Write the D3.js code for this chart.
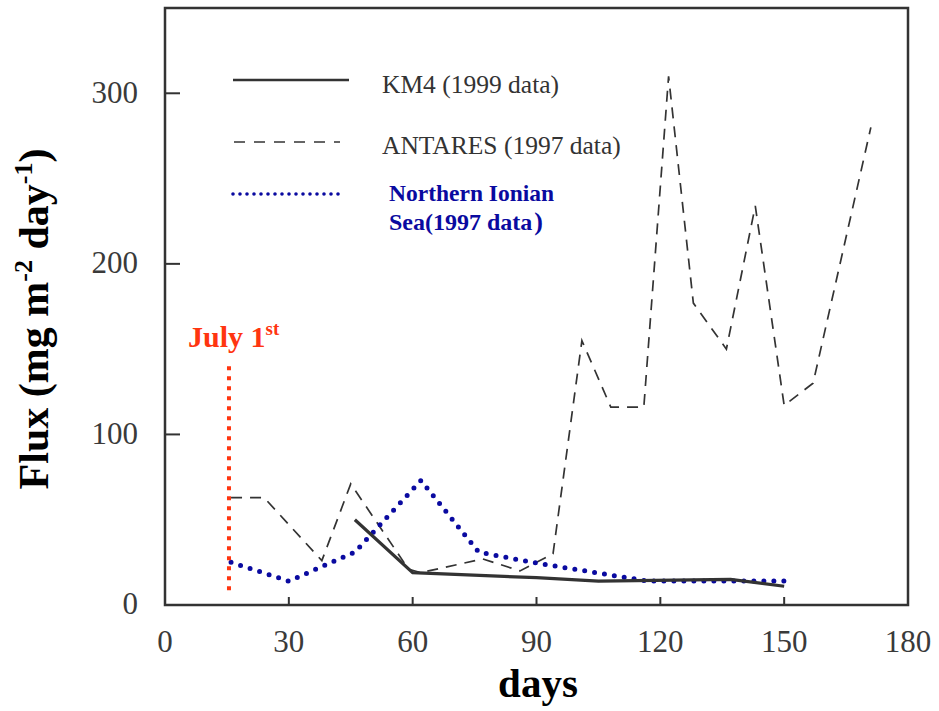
<!DOCTYPE html>
<html>
<head>
<meta charset="utf-8">
<script src="https://cdn.jsdelivr.net/npm/d3@7"></script>
<style>
  html, body { margin: 0; padding: 0; background: #ffffff; }
  svg { display: block; }
</style>
</head>
<body>
<script>
// Sediment trap flux time series (days after June 15)
const xTicks = [0, 30, 60, 90, 120, 150, 180];
const yTicks = [100, 200, 300];
const yLabelTicks = [0, 100, 200, 300];

const km4Days = [46, 60, 90, 105, 137, 150];
const km4Flux = [50, 19, 16, 14, 15, 11];

const antaresDays = [16, 24, 38, 45, 59, 62, 77, 86, 94, 101, 108, 116, 122, 128, 136, 143, 150, 157, 171];
const antaresFlux = [63, 63, 26, 71, 21, 19, 27, 20, 30, 155, 116, 116, 310, 177, 150, 234, 117, 130, 280];

const ionianDays = [16, 30, 46, 62, 76, 89, 117, 150];
const ionianFlux = [25, 14, 31, 73, 31, 25, 14, 14];

const july1Day = 15.5;
const july1Span = [8, 140];

const seriesNames = ["KM4 (1999 data)", "ANTARES (1997 data)", "Northern Ionian", "Sea(1997 data"];

const W = 939, H = 711;
const frame = { left: 165, right: 908, top: 8, bottom: 605 };

const svg = d3.select("body").append("svg").attr("width", W).attr("height", H);

const x = d3.scaleLinear().domain([0, 180]).range([frame.left, frame.right]);
const y = d3.scaleLinear().domain([0, 350]).range([frame.bottom, frame.top]);

const ink = "#333333";
const labelInk = "#3a3a3a";
const serif = "'Liberation Serif', 'Times New Roman', serif";
const blue = "#0a0aa0";
const red = "#ff3510";

// plot frame
svg.append("rect")
  .attr("x", frame.left).attr("y", frame.top)
  .attr("width", frame.right - frame.left).attr("height", frame.bottom - frame.top)
  .attr("fill", "none").attr("stroke", ink).attr("stroke-width", 2.5);

// inward ticks
svg.append("g").selectAll("line").data(xTicks.filter(d => d > 0 && d < 180)).join("line")
  .attr("x1", d => x(d)).attr("x2", d => x(d))
  .attr("y1", frame.bottom).attr("y2", frame.bottom - 8)
  .attr("stroke", ink).attr("stroke-width", 2);
svg.append("g").selectAll("line").data(yTicks).join("line")
  .attr("x1", frame.left).attr("x2", frame.left + 15)
  .attr("y1", d => y(d)).attr("y2", d => y(d))
  .attr("stroke", ink).attr("stroke-width", 2);

// tick labels
svg.append("g").selectAll("text").data(xTicks).join("text")
  .attr("x", d => x(d)).attr("y", 652)
  .attr("text-anchor", "middle")
  .attr("font-family", serif).attr("font-size", 31).attr("fill", labelInk)
  .text(d => d);
svg.append("g").selectAll("text").data(yLabelTicks).join("text")
  .attr("x", 138).attr("y", d => y(d)).attr("dy", "0.3em")
  .attr("text-anchor", "end")
  .attr("font-family", serif).attr("font-size", 31).attr("fill", labelInk)
  .text(d => d);

// axis titles
svg.append("text")
  .attr("x", 538).attr("y", 697)
  .attr("text-anchor", "middle")
  .attr("font-family", serif).attr("font-weight", "bold").attr("font-size", 41).attr("fill", "#000")
  .text("days");

const yt = svg.append("text")
  .attr("transform", "translate(48,319) rotate(-90)")
  .attr("text-anchor", "middle")
  .attr("font-family", serif).attr("font-weight", "bold").attr("font-size", 42).attr("fill", "#000");
yt.append("tspan").text("Flux (mg m");
yt.append("tspan").attr("dy", -16).attr("font-size", 26).text("-2");
yt.append("tspan").attr("dy", 16).text(" day");
yt.append("tspan").attr("dy", -16).attr("font-size", 26).text("-1");
yt.append("tspan").attr("dy", 16).text(")");

// series lines
const line = d3.line().x(d => x(d[0])).y(d => y(d[1]));
const zip = (a, b) => a.map((v, i) => [v, b[i]]);

svg.append("path").datum(zip(antaresDays, antaresFlux))
  .attr("d", line).attr("fill", "none")
  .attr("stroke", ink).attr("stroke-width", 1.7)
  .attr("stroke-dasharray", "11 8");

svg.append("path").datum(zip(ionianDays, ionianFlux))
  .attr("d", line).attr("fill", "none")
  .attr("stroke", blue).attr("stroke-width", 5)
  .attr("stroke-linecap", "round").attr("stroke-dasharray", "0 10");

svg.append("path").datum(zip(km4Days, km4Flux))
  .attr("d", line).attr("fill", "none")
  .attr("stroke", ink).attr("stroke-width", 3.2);

// July 1st marker
svg.append("line")
  .attr("x1", x(july1Day)).attr("x2", x(july1Day))
  .attr("y1", y(july1Span[1])).attr("y2", y(july1Span[0]))
  .attr("stroke", red).attr("stroke-width", 4)
  .attr("stroke-dasharray", "4 6");
const jt = svg.append("text")
  .attr("x", 188).attr("y", 347)
  .attr("font-family", serif).attr("font-weight", "bold").attr("font-size", 30).attr("fill", red);
jt.append("tspan").text("July 1");
jt.append("tspan").attr("dy", -12).attr("font-size", 19).text("st");

// legend
const lg = svg.append("g");
lg.append("line").attr("x1", 233).attr("x2", 349).attr("y1", 80).attr("y2", 80)
  .attr("stroke", ink).attr("stroke-width", 2.6);
lg.append("text").attr("x", 382).attr("y", 93)
  .attr("font-family", serif).attr("font-size", 25.5).attr("fill", ink).text(seriesNames[0]);

lg.append("line").attr("x1", 234).attr("x2", 340).attr("y1", 142).attr("y2", 142)
  .attr("stroke", ink).attr("stroke-width", 1.4).attr("stroke-dasharray", "11 9");
lg.append("text").attr("x", 382).attr("y", 154)
  .attr("font-family", serif).attr("font-size", 25.5).attr("fill", ink).text(seriesNames[1]);

lg.append("line").attr("x1", 233).attr("x2", 343).attr("y1", 194).attr("y2", 194)
  .attr("stroke", blue).attr("stroke-width", 3.6)
  .attr("stroke-linecap", "round").attr("stroke-dasharray", "0 7");
lg.append("text").attr("x", 389).attr("y", 201)
  .attr("font-family", serif).attr("font-weight", "bold").attr("font-size", 23.5).attr("fill", blue).text(seriesNames[2]);
const sea = lg.append("text").attr("x", 389).attr("y", 230)
  .attr("font-family", serif).attr("font-weight", "bold").attr("font-size", 24).attr("fill", blue);
sea.append("tspan").text(seriesNames[3]);
sea.append("tspan").attr("dx", 2).attr("font-size", 26).text(")");
</script>
</body>
</html>
